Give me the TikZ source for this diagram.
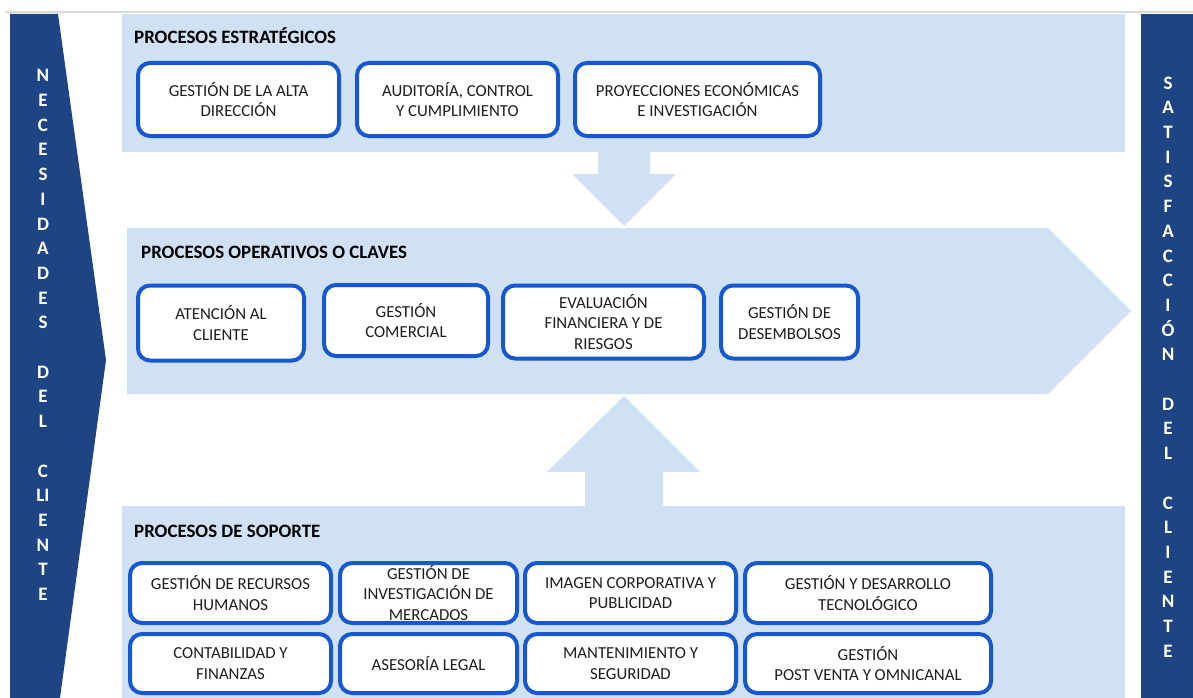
\documentclass[tikz,border=0pt]{standalone}
\usepackage{fontspec}
\setmainfont{Carlito}
\usepackage{tikz}
\usetikzlibrary{positioning, calc}
\definecolor{navyblue}{RGB}{31, 68, 132}
\definecolor{panelblue}{RGB}{207, 225, 242}
\definecolor{boxblue}{RGB}{22, 88, 208}
\definecolor{textdark}{RGB}{30, 30, 30}
\definecolor{rulegray}{RGB}{218, 218, 218}

\tikzset{
    procbox/.style={draw=boxblue, line width=4pt, rounded corners=12pt, fill=white,
        align=center, text=textdark, inner sep=2pt,
        font=\fontsize{16.8}{20.5}\selectfont},
    proctitle/.style={anchor=base west, text=black, inner sep=0pt,
        font=\fontsize{18.9}{22}\selectfont\bfseries},
    sidetext/.style={align=center, text=white, inner sep=0pt,
        font=\fontsize{19}{24.7}\selectfont\bfseries}
}

\begin{document}
\begin{tikzpicture}[x=1pt, y=-1pt]
        \useasboundingbox (0,0) rectangle (1193,698);
        \fill[white] (0,0) rectangle (1193,698);
        \draw[rulegray, line width=1.5pt] (5,12) -- (1193,12);

        % side bands
        \fill[navyblue] (10,14) -- (58,14) -- (106,360) -- (60,698) -- (10,698) -- cycle;
        \fill[navyblue] (1141,14) rectangle (1193,698);
        \node[sidetext] (needs) at (43,335) {N\\E\\C\\E\\S\\I\\D\\A\\D\\E\\S\\~\\D\\E\\L\\~\\C\\LI\\E\\N\\T\\E};
        \node[sidetext] (satisf) at (1168,367) {S\\A\\T\\I\\S\\F\\A\\C\\C\\I\\Ó\\N\\~\\D\\E\\L\\~\\C\\L\\I\\E\\N\\T\\E};

        % panels and block arrows
        \fill[panelblue] (122,14) rectangle (1125,152);
        \fill[panelblue] (127,228) -- (1048,228) -- (1131,311) -- (1048,394) -- (127,394) -- cycle;
        \fill[panelblue] (122,506) rectangle (1125,698);
        \fill[panelblue] (598,152) -- (650,152) -- (650,174) -- (676,174) -- (624,226)
            -- (572,174) -- (598,174) -- cycle;
        \fill[panelblue] (624,396) -- (700,472) -- (663,472) -- (663,506) -- (585,506)
            -- (585,472) -- (547,472) -- cycle;

        % estrategicos
        \node[proctitle] (estrat) at (134,44) {PROCESOS ESTRATÉGICOS};
        \node[procbox, minimum width=201pt, minimum height=73pt] (altadir) at (238.5,99.5) {GESTIÓN DE LA ALTA\\DIRECCIÓN};
        \node[procbox, minimum width=201pt, minimum height=73pt] (auditoria) at (457.5,99.5) {AUDITORÍA, CONTROL\\Y CUMPLIMIENTO};
        \node[procbox, minimum width=245pt, minimum height=73pt] (proyec) at (697.5,99.5) {PROYECCIONES ECONÓMICAS\\E INVESTIGACIÓN};

        % operativos
        \node[proctitle] (operat) at (141,258) {PROCESOS OPERATIVOS O CLAVES};
        \node[procbox, minimum width=166pt, minimum height=75pt] (atencion) at (221,323) {ATENCIÓN AL\\CLIENTE};
        \node[procbox, minimum width=164pt, minimum height=71pt] (comercial) at (406,320.5) {GESTIÓN\\COMERCIAL};
        \node[procbox, minimum width=201pt, minimum height=73pt] (evaluac) at (603.5,322) {EVALUACIÓN\\FINANCIERA Y DE\\RIESGOS};
        \node[procbox, minimum width=137pt, minimum height=73pt] (desemb) at (789.5,322) {GESTIÓN DE\\DESEMBOLSOS};

        % soporte
        \node[proctitle] (soporte) at (134,537) {PROCESOS DE SOPORTE};
        \node[procbox, minimum width=201pt, minimum height=60pt] (rrhh) at (230.5,593) {GESTIÓN DE RECURSOS\\HUMANOS};
        \node[procbox, minimum width=177pt, minimum height=60pt, inner sep=0pt] (mercados) at (428.5,593) {GESTIÓN DE\\INVESTIGACIÓN DE\\MERCADOS};
        \node[procbox, minimum width=211pt, minimum height=60pt] (imagen) at (630.5,593) {IMAGEN CORPORATIVA Y\\PUBLICIDAD};
        \node[procbox, minimum width=246pt, minimum height=60pt] (tecno) at (868,593) {GESTIÓN Y DESARROLLO\\TECNOLÓGICO};
        \node[procbox, minimum width=201pt, minimum height=59pt] (contab) at (230.5,663.5) {CONTABILIDAD Y\\FINANZAS};
        \node[procbox, minimum width=177pt, minimum height=59pt] (legal) at (428.5,663.5) {ASESORÍA LEGAL};
        \node[procbox, minimum width=211pt, minimum height=59pt] (manten) at (630.5,663.5) {MANTENIMIENTO Y\\SEGURIDAD};
        \node[procbox, minimum width=246pt, minimum height=59pt] (postventa) at (868,663.5) {GESTIÓN\\POST VENTA Y OMNICANAL};
    \end{tikzpicture}
\end{document}
